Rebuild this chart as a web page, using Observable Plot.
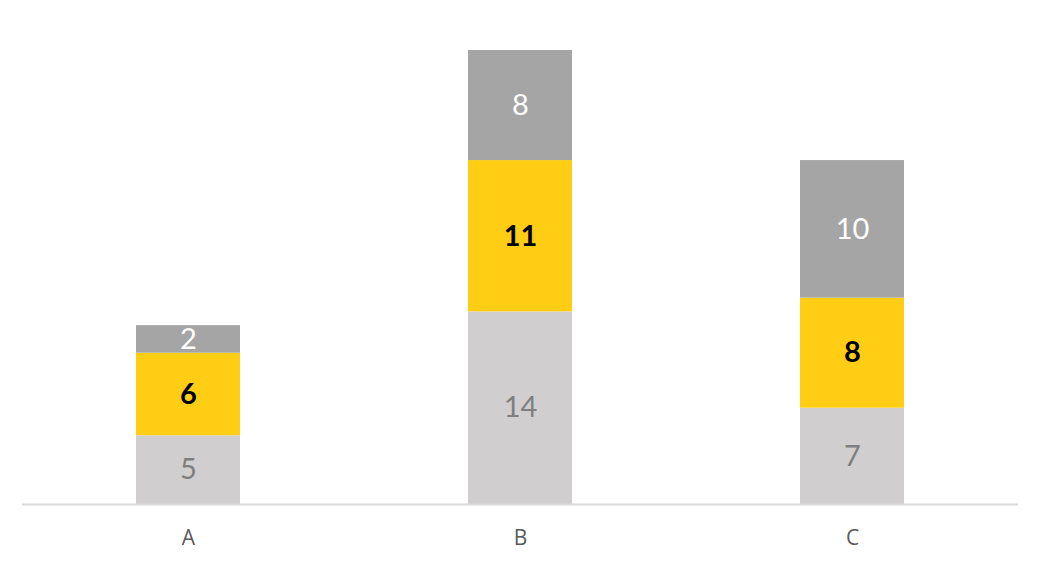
<!DOCTYPE html>
<html><head><meta charset="utf-8">
<script src="https://cdn.jsdelivr.net/npm/d3@7"></script>
<script src="https://cdn.jsdelivr.net/npm/@observablehq/plot@0.6"></script>
<style>body{margin:0;background:#fff;} #chart{width:1042px;height:565px;}</style>
</head><body><div id="chart"></div>
<script>
const categories = ["A", "B", "C"];
const seriesNames = ["S1", "S2", "S3"];
const s1 = [5, 14, 7];
const s2 = [6, 11, 8];
const s3 = [2, 8, 10];
const seriesColors = ["#d0cece", "#fecd14", "#a5a5a5"];
const labelColors = ["#7f7f7f", "#000000", "#ffffff"];
const labelWeights = ["normal", "bold", "normal"];

const vals = [s1, s2, s3];
const data = [];
seriesNames.forEach((s, si) => categories.forEach((c, ci) => data.push({cat: c, series: s, value: vals[si][ci], si})));

const stackOpts = {x: "cat", y: "value", z: "series", order: seriesNames};
const chart = Plot.plot({
  width: 1042, height: 565,
  marginLeft: 22, marginRight: 24, marginTop: 50, marginBottom: 61,
  x: {domain: categories, paddingInner: 0.687, paddingOuter: 0.3435, axis: null},
  y: {domain: [0, 33], axis: null},
  color: {domain: seriesNames, range: seriesColors},
  style: {fontFamily: "Open Sans, sans-serif", color: "#595959"},
  marks: [
    Plot.barY(data, Plot.stackY({...stackOpts, fill: "series"})),
    ...[0,1,2].map(i => Plot.text(data, Plot.stackY({...stackOpts, text: d => d.si === i ? String(d.value) : null, fill: labelColors[i], fontWeight: labelWeights[i], fontSize: 29, fontFamily: "Lato, sans-serif"}))),
    Plot.ruleY([0], {stroke: "#d9d9d9", strokeWidth: 2}),
    Plot.text(categories, {x: d => d, y: () => 0, text: d => d, dy: 34, fontSize: 21, fill: "#595959", fontFamily: "Open Sans, sans-serif"})
  ]
});
document.getElementById("chart").append(chart);
</script></body></html>
